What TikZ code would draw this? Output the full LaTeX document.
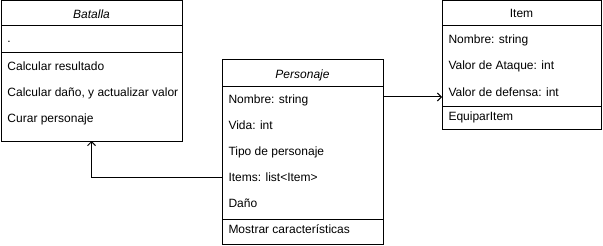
\documentclass[tikz,border=0pt]{standalone}
\usepackage{fontspec}
\setmainfont{Liberation Sans}
\usetikzlibrary{arrows.meta}

\tikzset{
 cls/.style={draw, anchor=north west, inner sep=0pt, outer sep=0pt},
 att/.style={anchor=base west, inner sep=0pt, font=\fontsize{12}{14}\selectfont},
 ttl/.style={anchor=base, inner sep=0pt, font=\fontsize{12}{14}\selectfont},
 assoc/.style={-{Straight Barb[length=4pt,width=8pt]}},
}

\begin{document}
\begin{tikzpicture}[x=1pt,y=-1pt,line width=1pt]
 \useasboundingbox (0,0) rectangle (603,246);

 % Batalla
 \node[cls, minimum width=181pt, minimum height=140pt] (bat) at (1,1) {};
 
 \node[ttl, font=\fontsize{12}{14}\selectfont\itshape] (batT) at (91.5,18.5) {Batalla};
 
 \node[att] (bat0) at (7,43) {.};
 
 \node[att] (bat1) at (7,71) {Calcular resultado};
 
 \node[att] (bat2) at (7,97) {Calcular daño, y actualizar valor};
 
 \node[att] (bat3) at (7,123) {Curar personaje};
 
 \draw (bat.north west) ++(0,25) -- ++(181,0);
 \draw (bat.north west) ++(0,52) -- ++(181,0);
 
 % Personaje
 \node[cls, minimum width=161pt, minimum height=184pt] (per) at (222,60) {};
 
 \node[ttl, font=\fontsize{12}{14}\selectfont\itshape] (perT) at (302.5,78) {Personaje};
 
 \node[att] (per1) at (228,103) {Nombre: string};
 
 \node[att] (per2) at (228,129) {Vida: int};
 
 \node[att] (per3) at (228,155) {Tipo de personaje};
 
 \node[att] (per4) at (228,181) {Items: list<Item>};
 
 \node[att] (per5) at (228,207) {Daño};
 
 \node[att] (per6) at (228,233) {Mostrar características};
 
 \draw (per.north west) ++(0,27) -- ++(161,0);
 \draw (per.north west) ++(0,159) -- ++(161,0);
 
 % Item
 \node[cls, minimum width=159pt, minimum height=128pt] (itm) at (442,1) {};
 
 \node[ttl] (itmT) at (521.5,18) {Item};
 
 \node[att] (itm1) at (448,44) {Nombre: string};
 
 \node[att] (itm2) at (448,70) {Valor de Ataque: int};
 
 \node[att] (itm3) at (448,96) {Valor de defensa: int};
 
 \node[att] (itm4) at (448,121) {EquiparItem};
 
 \draw (itm.north west) ++(0,25) -- ++(159,0);
 \draw (itm.north west) ++(0,106) -- ++(159,0);
 
 % associations
 \coordinate (r1) at (410,97);
 \coordinate (r2) at (150,177);
 
 \draw[assoc] (per.east |- r1) -- (itm.west |- r1);
 \draw[assoc] (per.west |- r2) -| (bat.south);
 
\end{tikzpicture}
\end{document}
